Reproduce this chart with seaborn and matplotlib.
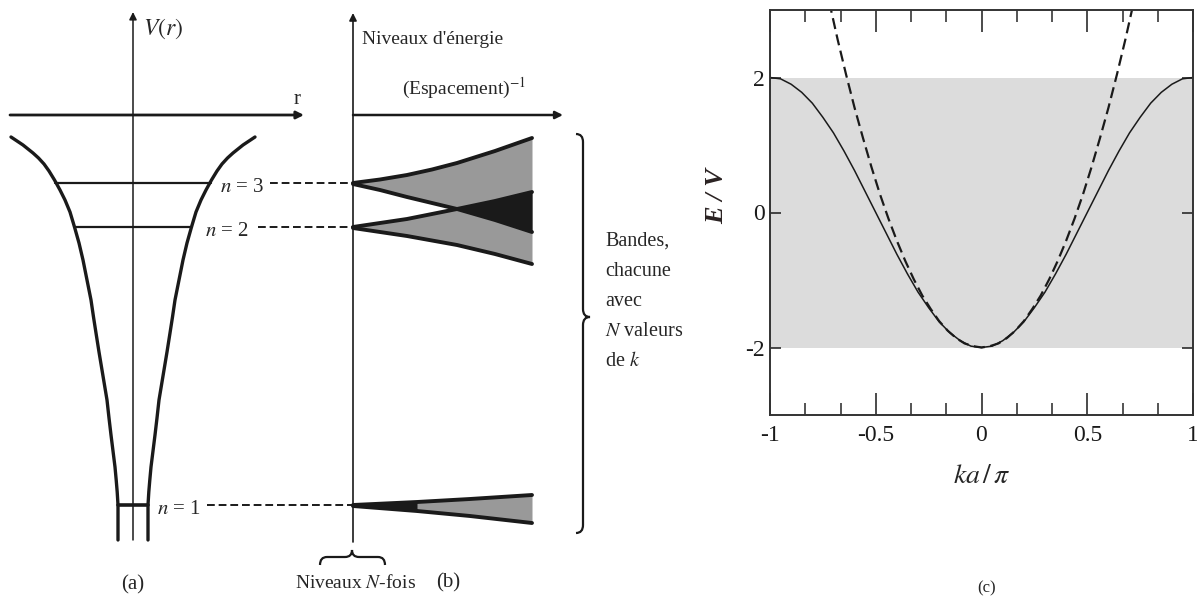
import numpy as np
import matplotlib
matplotlib.use("Agg")
import matplotlib.pyplot as plt
import seaborn as sns
from matplotlib.path import Path
from matplotlib.patches import PathPatch
from matplotlib.ticker import MultipleLocator

# ---------------- panel (c): tight-binding band vs free electron ----------------
ka_pi = [-1.00, -0.95, -0.90, -0.85, -0.80, -0.75, -0.70, -0.65, -0.60, -0.55,
         -0.50, -0.45, -0.40, -0.35, -0.30, -0.25, -0.20, -0.15, -0.10, -0.05,
         0.00, 0.05, 0.10, 0.15, 0.20, 0.25, 0.30, 0.35, 0.40, 0.45,
         0.50, 0.55, 0.60, 0.65, 0.70, 0.75, 0.80, 0.85, 0.90, 0.95, 1.00]
E_band = [2.00, 1.98, 1.90, 1.78, 1.62, 1.41, 1.18, 0.91, 0.62, 0.31,
          0.00, -0.31, -0.62, -0.91, -1.18, -1.41, -1.62, -1.78, -1.90, -1.98,
          -2.00, -1.98, -1.90, -1.78, -1.62, -1.41, -1.18, -0.91, -0.62, -0.31,
          0.00, 0.31, 0.62, 0.91, 1.18, 1.41, 1.62, 1.78, 1.90, 1.98, 2.00]
ka_free = [-0.72, -0.68, -0.64, -0.60, -0.56, -0.52, -0.48, -0.44, -0.40, -0.36,
           -0.32, -0.28, -0.24, -0.20, -0.16, -0.12, -0.08, -0.04, 0.00,
           0.04, 0.08, 0.12, 0.16, 0.20, 0.24, 0.28, 0.32, 0.36, 0.40,
           0.44, 0.48, 0.52, 0.56, 0.60, 0.64, 0.68, 0.72]
E_free = [3.12, 2.56, 2.04, 1.55, 1.10, 0.67, 0.27, -0.09, -0.42, -0.72,
          -0.99, -1.23, -1.43, -1.61, -1.75, -1.86, -1.94, -1.98, -2.00,
          -1.98, -1.94, -1.86, -1.75, -1.61, -1.43, -1.23, -0.99, -0.72, -0.42,
          -0.09, 0.27, 0.67, 1.10, 1.55, 2.04, 2.56, 3.12]
band_lo, band_hi = -2, 2
xticks_c = [-1, -0.5, 0, 0.5, 1]
xticklabels_c = ["-1", "-0.5", "0", "0.5", "1"]
yticks_c = [-2, 0, 2]
yticklabels_c = ["-2", "0", "2"]

# ---------------- panels (a) and (b): schematic, read in pixels ----------------
well_x0 = 133
well_y = [137, 141, 145, 149, 153, 158, 164, 171, 180, 190, 200, 212, 227, 243,
          260, 280, 300, 317, 333, 352, 370, 385, 400, 418, 435, 451, 467, 480,
          492, 505, 540]
well_half = [122, 116, 110, 105, 100, 94.5, 89, 84, 78.5, 73, 68, 63, 58.5, 54,
             50, 46, 42, 39.5, 37, 34, 31, 28.5, 26, 24, 22, 20, 18, 16.8,
             15.8, 15, 15]

level_labels = ["$n$ = 3", "$n$ = 2", "$n$ = 1"]
level_y = [183, 227, 505]
level_half = [78, 59, 15]
level_label_x = [220, 205, 157]
dash_start_x = [270, 258, 207]

band_x = [353, 380, 407, 432, 457, 495, 532]
n3_top = [183, 179.5, 175, 169.5, 163, 151, 138]
n3_bot = [184, 190, 197, 203, 209, 220, 232]
n2_top = [227, 223, 219, 214, 209, 201, 192]
n2_bot = [228, 232, 236, 240.5, 245, 254, 264]
n1_x = [353, 417, 470, 532]
n1_top = [505, 502, 499, 495]
n1_bot = [506, 511, 516, 523]
n1_dark = [True, True, False, False]

bande_lines = ["Bandes,", "chacune", "avec", "$N$ valeurs", "de $k$"]
bande_y = [241, 271, 301, 331, 361]

sns.set_theme(style="white")
plt.rcParams["font.family"] = ["Liberation Serif", "DejaVu Serif"]
plt.rcParams["mathtext.fontset"] = "stix"
plt.rcParams["axes.unicode_minus"] = False

fig = plt.figure(figsize=(11.97, 6.01), dpi=100)
fig.patch.set_facecolor("white")

ax = fig.add_axes([0, 0, 1, 1])
ax.set_xlim(0, 1197)
ax.set_ylim(601, 0)
ax.axis("off")

arrow = dict(arrowstyle="-|>", color="k", mutation_scale=11, shrinkA=0, shrinkB=0)

# (a) axes
ax.annotate("", xy=(133, 12), xytext=(133, 540), arrowprops=dict(arrow, lw=1.1))
ax.annotate("", xy=(304, 115), xytext=(10, 115), arrowprops=dict(arrow, lw=2.0))
ax.text(143, 29, "$V(r)$", fontsize=17, va="center", ha="left")
ax.text(297, 99, "r", fontsize=15, va="center", ha="center")

# potential well
wy = np.array(well_y)
wh = np.array(well_half)
sns.lineplot(x=well_x0 - wh, y=wy, sort=False, estimator=None, ax=ax, color="k", lw=2.4)
sns.lineplot(x=well_x0 + wh, y=wy, sort=False, estimator=None, ax=ax, color="k", lw=2.4)

# levels
for lab, y, h, lx, dx in zip(level_labels, level_y, level_half, level_label_x, dash_start_x):
    ax.plot([well_x0 - h, well_x0 + h], [y, y], color="k", lw=2.6 if h < 20 else 1.6)
    ax.text(lx, y + 4, lab, fontsize=15, va="center", ha="left")
    ax.plot([dx, 353], [y, y], color="k", lw=1.4, ls=(0, (4, 2)))

# (b) axes
ax.annotate("", xy=(353, 13), xytext=(353, 542), arrowprops=dict(arrow, lw=1.2))
ax.annotate("", xy=(563, 115), xytext=(353, 115), arrowprops=dict(arrow, lw=1.8))
ax.text(362, 40, "Niveaux d'énergie", fontsize=14, va="center", ha="left")
ax.text(402, 88, "(Espacement)$^{-1}$", fontsize=14, va="center", ha="left")

# bands
stip = "#999999"
ax.fill_between(band_x, n3_top, n3_bot, color=stip, lw=0)
ax.fill_between(band_x, n2_top, n2_bot, color=stip, lw=0)
ax.fill_between(band_x, n2_top, n3_bot, where=np.array(n3_bot) >= np.array(n2_top),
                interpolate=True, color="k", lw=0)
ax.fill_between(n1_x, n1_top, n1_bot, color=stip, lw=0)
ax.fill_between(n1_x, n1_top, n1_bot, where=n1_dark, color="k", lw=0)
for xs, ys in [(band_x, n3_top), (band_x, n3_bot), (band_x, n2_top),
               (band_x, n2_bot), (n1_x, n1_top), (n1_x, n1_bot)]:
    ax.plot(xs, ys, color="k", lw=2.8, solid_capstyle="round")

# big brace
bx, btop, bbot, bmid, btip = 583, 134, 533, 317, 590
verts = [(bx - 7, btop), (bx, btop), (bx, btop + 8),
         (bx, bmid - 8), (bx, bmid), (btip, bmid),
         (bx, bmid), (bx, bmid + 8),
         (bx, bbot - 8), (bx, bbot), (bx - 7, bbot)]
codes = [Path.MOVETO, Path.CURVE3, Path.CURVE3,
         Path.LINETO, Path.CURVE3, Path.CURVE3,
         Path.CURVE3, Path.CURVE3,
         Path.LINETO, Path.CURVE3, Path.CURVE3]
ax.add_patch(PathPatch(Path(verts, codes), fc="none", ec="k", lw=1.6))
for txt, y in zip(bande_lines, bande_y):
    ax.text(605, y, txt, fontsize=14.5, va="center", ha="left")

# small brace under (b)
sx0, sx1, stip_x, sy, send, stop = 320, 385, 352, 557, 565, 550
verts = [(sx0, send), (sx0, sy), (sx0 + 7, sy),
         (stip_x - 7, sy), (stip_x, sy), (stip_x, stop),
         (stip_x, sy), (stip_x + 7, sy),
         (sx1 - 7, sy), (sx1, sy), (sx1, send)]
ax.add_patch(PathPatch(Path(verts, codes), fc="none", ec="k", lw=1.6))

ax.text(133, 585, "(a)", fontsize=15, va="center", ha="center")
ax.text(356, 583, "Niveaux $N$-fois", fontsize=14, va="center", ha="center")
ax.text(448, 583, "(b)", fontsize=15, va="center", ha="center")
ax.text(987, 588, "(c)", fontsize=12, va="center", ha="center")

# ---------------- panel (c) ----------------
axc = fig.add_axes([770 / 1197, (601 - 415) / 601, 423 / 1197, 405 / 601])
axc.axhspan(band_lo, band_hi, color="#dcdcdc", lw=0, zorder=0)
sns.lineplot(x=ka_pi, y=E_band, ax=axc, color="k", lw=1.1)
sns.lineplot(x=ka_free, y=E_free, ax=axc, color="k", lw=1.6, ls=(0, (5, 2.5)))
axc.set_xlim(-1, 1)
axc.set_ylim(-3, 3)
axc.set_xticks(xticks_c)
axc.set_xticklabels(xticklabels_c)
axc.set_yticks(yticks_c)
axc.set_yticklabels(yticklabels_c)
axc.xaxis.set_minor_locator(MultipleLocator(1 / 6))
axc.tick_params(axis="x", which="major", direction="in", length=16, width=1.1,
                top=True, bottom=True, labelsize=17, pad=7, colors="k")
axc.tick_params(axis="x", which="minor", direction="in", length=8.5, width=1.1,
                top=True, bottom=True)
axc.tick_params(axis="y", which="major", direction="in", length=8, width=1.1,
                left=True, right=True, labelsize=17, pad=4, colors="k")
for sp in axc.spines.values():
    sp.set_color("#333333")
    sp.set_linewidth(1.4)
axc.set_xlabel(r"$ka\,/\,\pi$", fontsize=20, labelpad=13)
axc.set_ylabel("E / V", fontsize=19, fontstyle="italic", fontweight="bold",
               color="#2a2222", labelpad=12)
axc.yaxis.label.set_y(0.54)

fig.savefig("out.png", dpi=100, facecolor="white")
